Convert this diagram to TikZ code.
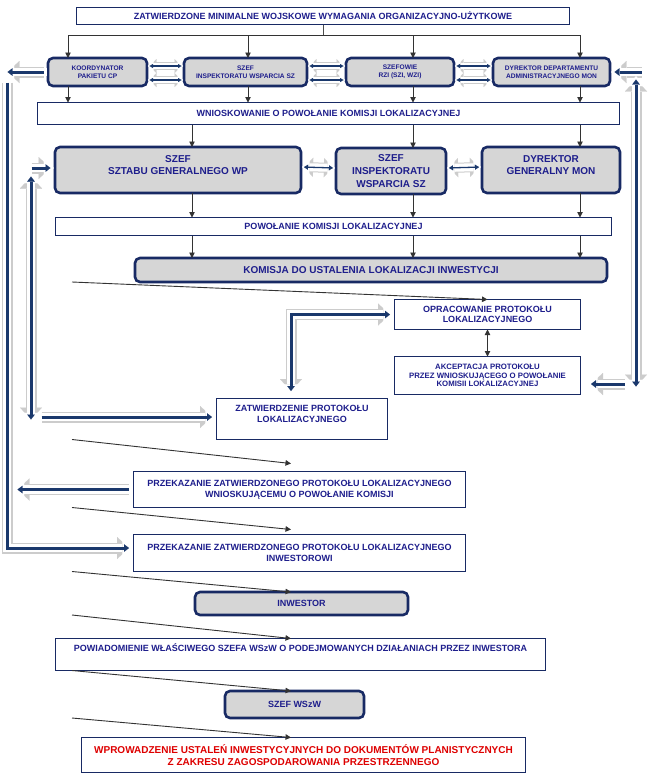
\documentclass[tikz,border=0pt]{standalone}
\usepackage{fontspec}
\setmainfont{Liberation Sans}
\usetikzlibrary{arrows.meta,calc}
\definecolor{boxnavy}{RGB}{24,42,100}
\definecolor{txtblue}{RGB}{30,30,140}
\definecolor{barnavy}{RGB}{26,56,108}
\definecolor{holgray}{RGB}{204,204,204}
\definecolor{boxgray}{RGB}{214,214,214}
\definecolor{redtxt}{RGB}{222,0,0}
\newcommand{\fsz}[2]{\fontsize{#1}{#2}\selectfont}
\begin{document}
\begin{tikzpicture}[x=1pt,y=-1pt,
  every node/.style={inner sep=0pt, outer sep=0pt, align=center, text=txtblue},
  pbox/.style args={#1x#2}{draw=boxnavy, line width=1.6pt, fill=white, minimum width=#1pt, minimum height=#2pt},
  gbox/.style args={#1x#2}{draw=boxnavy, line width=2.6pt, fill=boxgray, rounded corners=5pt, minimum width=#1pt, minimum height=#2pt},
  fR/.style={font=\bfseries\fsz{6.6}{8}},
  fN/.style={font=\bfseries\fsz{9}{11}},
  fB/.style={font=\bfseries\fsz{10}{12.8}},
  fK/.style={font=\bfseries\fsz{7.8}{8.6}},
  arr/.style={draw=black!80, line width=0.9pt, -{Triangle[length=5.5pt,width=5.5pt]}},
  arrb/.style={draw=black!80, line width=0.9pt, {Triangle[length=5.5pt,width=5.5pt]}-{Triangle[length=5.5pt,width=5.5pt]}},
  ln/.style={draw=black!70, line width=0.9pt},
  holA/.style={
    preaction={draw=holgray, line width=11pt, >={Triangle[length=12pt,width=22pt,line width=0.01pt]}, #1},
    preaction={draw=white, line width=8.8pt, >={Triangle[length=10pt,width=18.6pt,line width=0.01pt]}, #1, shorten >=1.2pt, shorten <=1.2pt},
    draw=barnavy, line width=3pt, >={Triangle[length=5pt,width=7.5pt,line width=0.01pt]}, #1, shorten >=4.5pt, shorten <=4.5pt},
  holM/.style={
    preaction={draw=holgray, line width=10pt, >={Triangle[length=9pt,width=19pt,line width=0.01pt]}, <->},
    preaction={draw=white, line width=8pt, >={Triangle[length=7.4pt,width=16pt,line width=0.01pt]}, <->, shorten >=1.1pt, shorten <=1.1pt},
    draw=barnavy, line width=1.3pt, >={Triangle[length=4pt,width=5pt,line width=0.01pt]}, <->, shorten >=3pt, shorten <=3pt},
  holS/.style={
    preaction={draw=holgray, line width=8pt, >={Triangle[length=7pt,width=14pt,line width=0.01pt]}, <->},
    preaction={draw=white, line width=6.2pt, >={Triangle[length=5.6pt,width=11.4pt,line width=0.01pt]}, <->, shorten >=0.9pt, shorten <=0.9pt},
    draw=barnavy, line width=1.1pt, >={Triangle[length=3.5pt,width=4pt,line width=0.01pt]}, <->, shorten >=2.5pt, shorten <=2.5pt}
]
\useasboundingbox[fill=white] (0,0) rectangle (650,780);

% ---- boxes
\node[pbox=493x17, fN] (top) at (323,16) {ZATWIERDZONE MINIMALNE WOJSKOWE WYMAGANIA ORGANIZACYJNO-UŻYTKOWE};
\node[gbox=99x28, fR] (b1) at (97.5,72) {KOORDYNATOR\\PAKIETU CP};
\node[gbox=123x28, fR] (b2) at (245.5,72) {SZEF\\INSPEKTORATU WSPARCIA SZ};
\node[gbox=108x28, fR] (b3) at (400,72) {SZEFOWIE\\RZI (SZI, WZI)};
\node[gbox=117x28, fR] (b4) at (551.5,72) {DYREKTOR DEPARTAMENTU\\ADMINISTRACYJNEGO MON};
\node[pbox=582x22, fN] (wn) at (328.5,113.5) {WNIOSKOWANIE O POWOŁANIE KOMISJI LOKALIZACYJNEJ};
\node[gbox=246x46, fB] (s1) at (178,170) {SZEF\\SZTABU GENERALNEGO WP\\[-3pt]~};
\node[gbox=110x46, fB] (s2) at (391,171) {SZEF\\INSPEKTORATU\\WSPARCIA SZ};
\node[gbox=138x46, fB] (s3) at (551,170) {DYREKTOR\\GENERALNY MON\\[-3pt]~};
\node[pbox=556x18, fN] (pow) at (333.5,226.5) {POWOŁANIE KOMISJI LOKALIZACYJNEJ};
\node[gbox=472x24, fB] (kom) at (371,270) {KOMISJA DO USTALENIA LOKALIZACJI INWESTYCJI};
\node[pbox=186x30, font=\bfseries\fsz{9}{10.5}] (opr) at (487.5,314.5) {OPRACOWANIE PROTOKOŁU\\LOKALIZACYJNEGO};
\node[pbox=186x38, fK] (akc) at (487.5,375.5) {AKCEPTACJA PROTOKOŁU\\PRZEZ WNIOSKUJĄCEGO O POWOŁANIE\\KOMISII LOKALIZACYJNEJ};
\node[pbox=171x41, fN] (zat) at (302,419) {ZATWIERDZENIE PROTOKOŁU\\LOKALIZACYJNEGO\\~};
\node[pbox=332x36, fN] (prz1) at (299.5,489.5) {PRZEKAZANIE ZATWIERDZONEGO PROTOKOŁU LOKALIZACYJNEGO\\WNIOSKUJĄCEMU O POWOŁANIE KOMISJI};
\node[pbox=332x37, fN] (prz2) at (299.5,553) {PRZEKAZANIE ZATWIERDZONEGO PROTOKOŁU LOKALIZACYJNEGO\\INWESTOROWI};
\node[gbox=213x23, fN] (inw) at (301.5,603.5) {INWESTOR};
\node[pbox=490x32, font=\bfseries\fsz{9}{13}] (pwd) at (300.5,654.5) {POWIADOMIENIE WŁAŚCIWEGO SZEFA WSzW O PODEJMOWANYCH DZIAŁANIACH PRZEZ INWESTORA\\~};
\node[gbox=139x27, fN] (wsw) at (294.5,704.5) {SZEF WSzW};
\node[pbox=444x35, font=\bfseries\fsz{10}{12}, text=redtxt] (wpr) at (303.5,755) {WPROWADZENIE USTALEŃ INWESTYCYJNYCH DO DOKUMENTÓW PLANISTYCZNYCH\\Z ZAKRESU ZAGOSPODAROWANIA PRZESTRZENNEGO};

% ---- helper coordinates
\coordinate (cA) at (68,0);
\coordinate (cB) at (248,0);
\coordinate (cC) at (413,0);
\coordinate (cD) at (580,0);
\coordinate (cE) at (192,0);
\coordinate (j) at (323,35);
\coordinate (dl) at (72,0);
\coordinate (dr) at (291,0);
\coordinate (xL0) at (3,0);
\coordinate (xL2) at (13,0);
\coordinate (xL4) at (27,0);
\coordinate (xL5) at (37,0);
\coordinate (xM) at (291,0);
\coordinate (xR0) at (646,0);
\coordinate (xR2) at (629,0);
\coordinate (oltop) at (7,78);
\coordinate (ivt) at (31,172);
\coordinate (ivb) at (31,424);
\coordinate (rvt) at (636,75);
\coordinate (rvb) at (636,391);

% ---- thin connectors
\draw[ln] (top.south) -- (j);
\draw[arr] (j) -| (b1.north -| cA);
\draw[arr] (j) -| (b2.north -| cB);
\draw[arr] (j) -| (b3.north -| cC);
\draw[arr] (j) -| (b4.north -| cD);
\draw[arr] (b1.south -| cA) -- (wn.north -| cA);
\draw[arr] (b2.south -| cB) -- (wn.north -| cB);
\draw[arr] (b3.south -| cC) -- (wn.north -| cC);
\draw[arr] (b4.south -| cD) -- (wn.north -| cD);
\draw[arr] (wn.south -| cE) -- (s1.north -| cE);
\draw[arr] (wn.south -| cC) -- (s2.north -| cC);
\draw[arr] (wn.south -| cD) -- (s3.north -| cD);
\draw[arr] (s1.south -| cE) -- (pow.north -| cE);
\draw[arr] (s2.south -| cC) -- (pow.north -| cC);
\draw[arr] (s3.south -| cD) -- (pow.north -| cD);
\draw[arr] (pow.south -| cE) -- (kom.north -| cE);
\draw[arr] (pow.south -| cC) -- (kom.north -| cC);
\draw[arr] (pow.south -| cD) -- (kom.north -| cD);

\draw[arr] (kom.south -| dl) -- (opr.north);
\draw[arrb] (opr.south) -- (akc.north);
\draw[arr] (zat.south -| dl) -- ([yshift=8pt]prz1.north -| dr);
\draw[arr] (prz1.south -| dl) -- ([yshift=5pt]prz2.north -| dr);
\draw[arr] (prz2.south -| dl) -- (inw.north -| dr);
\draw[arr] (inw.south -| dl) -- (pwd.north -| dr);
\draw[arr] (pwd.south -| dl) -- (wsw.north -| dr);
\draw[arr] (wsw.south -| dl) -- (wpr.north -| dr);

% ---- hollow block arrows
\draw[holA=->] (oltop) |- ([yshift=5pt]prz2.west);
\draw[holA=->] (b1.west) -- (b1.west -| xL0);
\draw[holA=->] (prz1.west) -- (prz1.west -| xL2);
\draw[holA=<->] (ivt) -- (ivb);
\draw[holA=->] ([yshift=2pt]s1.west -| xL4) -- ([yshift=2pt]s1.west);
\draw[holA=->] ([yshift=2pt]zat.west -| xL5) -- ([yshift=2pt]zat.west);
\draw[holA=<->] ([yshift=3pt]zat.north -| xM) |- (opr.west);
\draw[holA=->] (b4.east -| xR0) -- (b4.east);
\draw[holA=<->] (rvt) -- (rvb);
\draw[holA=->] ([yshift=-8.5pt]akc.east -| xR2) -- ([yshift=-8.5pt,xshift=6pt]akc.east);

\foreach \a/\b in {b1/b2,b2/b3,b3/b4}{
  \draw[holS] ([yshift=6pt]\a.east) -- ([yshift=6pt]\b.west);
  \draw[holS] ([yshift=-8pt]\a.east) -- ([yshift=-8pt]\b.west);
}
\draw[holM] ([yshift=3pt]s1.east) -- ([yshift=3pt]s2.west);
\draw[holM] ([yshift=3pt]s2.east) -- ([yshift=3pt]s3.west);
\end{tikzpicture}
\end{document}
